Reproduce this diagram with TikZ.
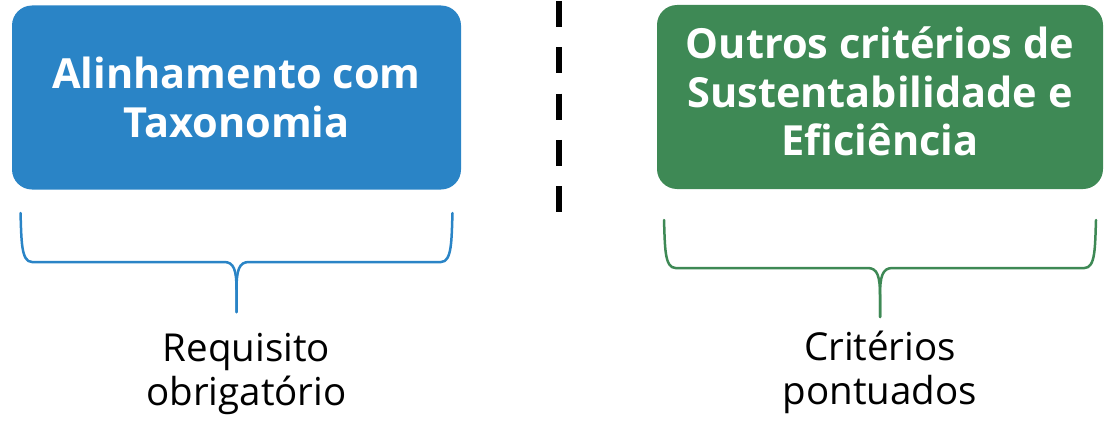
\documentclass[tikz,border=0pt]{standalone}
\usepackage{fontspec}
\setmainfont{Open Sans}
\usetikzlibrary{positioning}
\definecolor{azul}{HTML}{2A84C6}
\definecolor{verde}{HTML}{3E8955}
\tikzset{
  caixa/.style={rounded corners=20pt,minimum height=184pt,inner sep=0pt,align=center,
    text=white,font=\fontsize{41.5}{48.5}\selectfont\bfseries},
  chave/.style={line width=2.5pt,line cap=round,line join=round},
  rotulo/.style={inner sep=0pt,align=center,font=\fontsize{38.5}{44}\selectfont},
  corte/.style={line width=6pt,dash pattern=on 26pt off 20.3pt},
}
\begin{document}
\begin{tikzpicture}[x=1pt,y=-1pt]
  \useasboundingbox (0,0) rectangle (1107,420);
  \node[caixa,fill=azul,minimum width=449pt] (alin) at (236.5,97.5) {Alinhamento com\\Taxonomia};
  \node[caixa,fill=verde,minimum width=446pt,text depth=11pt] (outros) at (880,97) {Outros critérios de\\Sustentabilidade e\\Eficiência};
  \coordinate (c1) at (559,1); \coordinate (c2) at (559,212.5);
  \draw[corte] (c1) -- (c2);
  % chaves
  \coordinate (aE) at (20.5,213); \coordinate (aD) at (452.5,213); \coordinate (aP) at (236.5,312);
  \coordinate (vE) at (664,220); \coordinate (vD) at (1096,220); \coordinate (vP) at (880,317);
  \draw[chave,azul] (aE) .. controls (21.5,240) and (21,262) .. (32,262) -- (224,262)
    .. controls (234,262) and (236.5,270) .. (236.5,290) -- (aP);
  \draw[chave,azul] (aD) .. controls (451.5,240) and (452,262) .. (441,262) -- (249,262)
    .. controls (239,262) and (236.5,270) .. (236.5,290) -- (aP);
  \draw[chave,verde] (vE) .. controls (665,247) and (664.5,268) .. (675.5,268) -- (867.5,268)
    .. controls (877.5,268) and (880,276) .. (880,296) -- (vP);
  \draw[chave,verde] (vD) .. controls (1095,247) and (1095.5,268) .. (1084.5,268) -- (892.5,268)
    .. controls (882.5,268) and (880,276) .. (880,296) -- (vP);
  \node[rotulo,below=21pt of aP,xshift=10pt] (req) {Requisito\\obrigatório};
  \node[rotulo,below=14pt of vP] (crit) {Critérios\\pontuados};
\end{tikzpicture}
\end{document}
